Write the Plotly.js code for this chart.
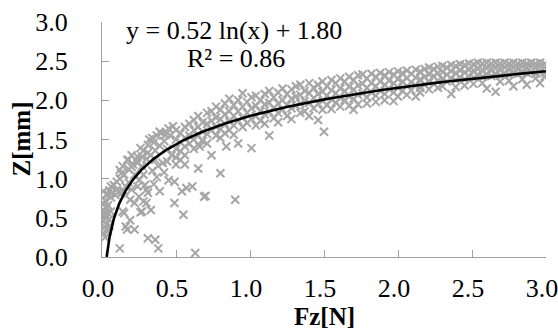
<!DOCTYPE html>
<html>
<head>
<meta charset="utf-8">
<script src="https://cdn.plot.ly/plotly-3.0.1.min.js"></script>
<style>html,body{margin:0;padding:0;background:#fff;}#chart{width:558px;height:335px;}</style>
</head>
<body>
<div id="chart"></div>
<script>
const pointsLow = [
[0.01,0.30],[0.02,0.38],[0.01,0.45],[0.03,0.50],[0.02,0.55],[0.01,0.60],[0.03,0.42],[0.04,0.33],[0.02,0.25],[0.05,0.48],
[0.03,0.62],[0.01,0.68],[0.04,0.56],[0.02,0.72],[0.05,0.40],[0.03,0.80],[0.01,0.84],[0.05,0.85],[0.02,0.52],[0.04,0.66],
[0.06,0.58],[0.03,0.35],[0.04,0.80],[0.07,0.82],[0.09,0.79],[0.11,0.83],[0.13,0.81],[0.15,0.84],[0.06,0.76],[0.10,0.86],
[0.14,0.84],[0.20,0.86],[0.12,1.11],[0.20,1.15],[0.27,1.28],[0.19,0.73],[0.22,0.69],[0.25,0.77],[0.30,0.86],[0.31,0.82],
[0.39,0.84],[0.30,0.69],[0.33,0.60],[0.16,0.39],[0.22,0.35],[0.15,0.56],[0.19,0.47],[0.14,0.58],[0.27,0.58],[0.31,0.24],
[0.36,0.22],[0.38,0.11],[0.12,0.11],[0.49,0.96],[0.49,0.69],[0.54,0.84],[0.55,0.54],[0.63,0.05],[0.69,0.77],[0.90,0.73],
[0.70,0.78],[0.61,0.90],[0.80,1.07],[0.57,0.88],[0.50,1.18],[0.56,1.18],[0.65,1.13],[0.28,0.71],[0.26,0.57],[0.17,0.35],
[0.06,0.90],[0.10,0.96],[0.13,1.07],[0.23,1.24],[0.31,1.33],[0.17,1.24],[0.26,1.39],[0.32,1.50],[0.39,1.60],[0.48,1.67],
[0.24,1.28],[0.31,1.43],[0.40,1.58],[0.41,1.20],[0.53,1.24],[0.66,1.41],[0.74,1.30],[0.80,1.52],[0.84,1.41],[0.18,1.24],
[0.08,0.92],[0.12,1.00],[0.15,1.05],[0.18,1.12],[0.21,1.18],[0.24,1.20],[0.27,1.16],[0.30,1.25],[0.33,1.30],[0.36,1.36],
[0.36,1.24],[0.39,1.42],[0.42,1.48],[0.44,1.38],[0.46,1.55],[0.47,1.30],[0.43,1.56],[0.35,1.46],[0.22,1.05],[0.25,0.98],
[0.28,1.05],[0.34,1.10],[0.37,1.02],[0.42,1.08],[0.45,0.98],[0.18,0.95],[0.16,0.90],[0.24,0.90],[0.35,0.93],[0.44,1.22],
[0.38,1.16],[0.29,0.92],[0.14,1.16],[0.20,1.30],[0.28,1.36],[0.34,1.52],[0.45,1.64],[0.37,1.55]
];
const pointsMid = [
[0.50,1.62],[0.50,1.50],[0.50,1.38],[0.50,1.27],[0.53,1.58],[0.53,1.46],[0.53,1.35],[0.56,1.66],[0.56,1.52],[0.56,1.41],
[0.56,1.30],[0.59,1.70],[0.59,1.55],[0.59,1.45],[0.62,1.75],[0.62,1.62],[0.62,1.50],[0.62,1.38],[0.65,1.80],[0.65,1.66],
[0.65,1.55],[0.65,1.44],[0.68,1.72],[0.68,1.60],[0.68,1.48],[0.71,1.84],[0.71,1.70],[0.71,1.57],[0.71,1.45],[0.74,1.86],
[0.74,1.74],[0.74,1.62],[0.77,1.92],[0.77,1.78],[0.77,1.66],[0.77,1.55],[0.80,1.88],[0.80,1.76],[0.80,1.63],[0.83,1.96],
[0.83,1.82],[0.83,1.70],[0.83,1.58],[0.86,2.02],[0.86,1.86],[0.86,1.73],[0.86,1.62],[0.89,1.94],[0.89,1.80],[0.89,1.68],
[0.89,1.56],[0.92,2.00],[0.92,1.86],[0.92,1.74],[0.92,1.45],[0.95,2.09],[0.95,1.92],[0.95,1.78],[0.95,1.66],[0.98,1.98],
[0.98,1.84],[0.98,1.71],[1.01,2.04],[1.01,1.90],[1.01,1.76],[1.01,1.39],[1.04,2.06],[1.04,1.93],[1.04,1.80],[1.04,1.68],
[1.07,2.00],[1.07,1.86],[1.07,1.74],[1.10,2.08],[1.10,1.95],[1.10,1.82],[1.10,1.70],[1.13,2.12],[1.13,1.97],[1.13,1.85],
[1.13,1.55],[1.16,2.04],[1.16,1.90],[1.16,1.77],[1.19,2.10],[1.19,1.96],[1.19,1.84],[1.19,1.72],[1.22,2.15],[1.22,2.00],
[1.22,1.88],[1.25,2.08],[1.25,1.94],[1.25,1.80],[1.28,2.14],[1.28,2.02],[1.28,1.90],[1.28,1.76],[1.31,2.18],[1.31,2.05],
[1.31,1.93],[1.34,2.20],[1.34,2.07],[1.34,1.96],[1.34,1.84],[1.37,2.12],[1.37,1.99],[1.37,1.86],[1.40,2.22],[1.40,2.09],
[1.40,1.97],[1.40,1.80],[1.43,2.16],[1.43,2.03],[1.43,1.90],[1.46,2.20],[1.46,2.08],[1.46,1.96],[1.46,1.75],[1.49,2.24],
[1.49,2.11],[1.49,1.99],[1.49,1.88],[1.50,1.60]
];
const pointsHigh = [
[1.52,2.18],[1.52,2.06],[1.52,1.94],[1.55,2.26],[1.55,2.13],[1.55,2.01],[1.55,1.89],[1.58,2.22],[1.58,2.09],[1.58,1.97],
[1.61,2.28],[1.61,2.15],[1.61,2.03],[1.61,1.92],[1.64,2.24],[1.64,2.12],[1.64,2.00],[1.67,2.30],[1.67,2.17],[1.67,2.05],
[1.67,1.93],[1.70,2.26],[1.70,2.14],[1.70,2.02],[1.70,1.88],[1.73,2.32],[1.73,2.19],[1.73,2.07],[1.73,1.95],[1.76,2.33],
[1.76,2.21],[1.76,2.09],[1.79,2.28],[1.79,2.16],[1.79,2.04],[1.79,1.96],[1.82,2.34],[1.82,2.22],[1.82,2.10],[1.85,2.30],
[1.85,2.18],[1.85,2.06],[1.85,1.98],[1.88,2.35],[1.88,2.24],[1.88,2.12],[1.91,2.32],[1.91,2.20],[1.91,2.08],[1.91,2.00],
[1.94,2.36],[1.94,2.25],[1.94,2.14],[1.97,2.33],[1.97,2.22],[1.97,2.10],[1.97,1.99],[2.00,2.37],[2.00,2.27],[2.00,2.16],
[2.00,2.05],[2.03,2.35],[2.03,2.24],[2.03,2.12],[2.06,2.38],[2.06,2.28],[2.06,2.18],[2.06,2.07],[2.09,2.34],[2.09,2.23],
[2.09,2.13],[2.12,2.39],[2.12,2.29],[2.12,2.19],[2.12,2.05],[2.15,2.37],[2.15,2.27],[2.15,2.16],[2.15,2.10],[2.18,2.40],
[2.18,2.30],[2.18,2.20],[2.21,2.42],[2.21,2.33],[2.21,2.23],[2.21,2.14],[2.24,2.40],[2.24,2.31],[2.24,2.21],[2.27,2.43],
[2.27,2.35],[2.27,2.25],[2.27,2.16],[2.30,2.44],[2.30,2.36],[2.30,2.27],[2.30,2.18],[2.33,2.42],[2.33,2.33],[2.33,2.24],
[2.36,2.45],[2.36,2.37],[2.36,2.28],[2.36,2.08],[2.39,2.44],[2.39,2.35],[2.39,2.26],[2.39,2.17],[2.42,2.46],[2.42,2.38],
[2.42,2.29],[2.45,2.45],[2.45,2.36],[2.45,2.27],[2.45,2.19],[2.48,2.47],[2.48,2.39],[2.48,2.30],[2.51,2.46],[2.51,2.38],
[2.51,2.29],[2.51,2.21],[2.54,2.48],[2.54,2.40],[2.54,2.31],[2.57,2.47],[2.57,2.39],[2.57,2.30],[2.57,2.22],[2.60,2.48],
[2.60,2.41],[2.60,2.32],[2.60,2.15],[2.63,2.47],[2.63,2.40],[2.63,2.31],[2.66,2.48],[2.66,2.41],[2.66,2.33],[2.66,2.11],
[2.69,2.47],[2.69,2.40],[2.69,2.32],[2.69,2.24],[2.72,2.48],[2.72,2.42],[2.72,2.34],[2.75,2.47],[2.75,2.41],[2.75,2.33],
[2.75,2.25],[2.78,2.48],[2.78,2.42],[2.78,2.35],[2.78,2.18],[2.81,2.47],[2.81,2.41],[2.81,2.34],[2.84,2.48],[2.84,2.43],
[2.84,2.36],[2.84,2.27],[2.87,2.47],[2.87,2.42],[2.87,2.35],[2.87,2.20],[2.90,2.48],[2.90,2.43],[2.90,2.36],[2.93,2.47],
[2.93,2.42],[2.93,2.34],[2.93,2.28],[2.96,2.48],[2.96,2.43],[2.96,2.37],[2.96,2.22],[2.99,2.47],[2.99,2.42],[2.99,2.35],
[2.99,2.30]
];
// Logarithmic trendline shown in the chart: y = 0.52 ln(x) + 1.80
const fitA = 0.52;
const fitB = 1.80;
const fitXStart = 0.0314;
const fitXEnd = 3.0;
const axisTicks = [0, 0.5, 1.0, 1.5, 2.0, 2.5, 3.0];
const tickLabels = ["0.0", "0.5", "1.0", "1.5", "2.0", "2.5", "3.0"];

const allPts = pointsLow.concat(pointsMid, pointsHigh);
const fz = allPts.map(p => p[0]);
const z = allPts.map(p => p[1]);

const fitX = [], fitY = [];
const nFit = 200;
for (let i = 0; i <= nFit; i++) {
  const lx = Math.log(fitXStart) + (Math.log(fitXEnd) - Math.log(fitXStart)) * i / nFit;
  const xv = Math.exp(lx);
  fitX.push(xv);
  fitY.push(fitA * Math.log(xv) + fitB);
}

const gray = '#a6a6a6';
const axisGray = '#a0a0a0';
const serif = 'Liberation Serif';

const traces = [
  {
    x: fz, y: z, type: 'scatter', mode: 'markers', hoverinfo: 'skip',
    marker: {symbol: 'x-thin', size: 8, color: gray, line: {color: gray, width: 2}}
  },
  {
    x: fitX, y: fitY, type: 'scatter', mode: 'lines', hoverinfo: 'skip',
    line: {color: '#000', width: 2.6}
  }
];

const layout = {
  width: 558, height: 335,
  margin: {l: 102, r: 12, t: 22, b: 78},
  paper_bgcolor: '#fff', plot_bgcolor: '#fff',
  showlegend: false,
  font: {family: serif, size: 26, color: '#000'},
  xaxis: {
    range: [0, 3], tickvals: axisTicks, ticktext: tickLabels,
    showgrid: false, zeroline: false, showline: true, linecolor: axisGray, linewidth: 1,
    ticks: 'inside', ticklen: 7, tickcolor: axisGray, tickwidth: 1,
    tickfont: {family: serif, size: 26, color: '#000'}, ticklabelstandoff: 8,
    ticklabelshift: -4, ticklabeloverflow: 'allow', automargin: false
  },
  yaxis: {
    range: [0, 3], tickvals: axisTicks, ticktext: tickLabels,
    showgrid: false, zeroline: false, showline: true, linecolor: axisGray, linewidth: 1,
    ticks: 'inside', ticklen: 7, tickcolor: axisGray, tickwidth: 1,
    tickfont: {family: serif, size: 26, color: '#000'}, ticklabelstandoff: 28,
    ticklabeloverflow: 'allow', automargin: false
  },
  annotations: [
    {text: 'y = 0.52 ln(x) + 1.80', xref: 'paper', yref: 'paper', x: 0.298, y: 0.962,
     xanchor: 'center', yanchor: 'middle', showarrow: false, font: {family: serif, size: 26, color: '#000'}},
    {text: 'R² = 0.86', xref: 'paper', yref: 'paper', x: 0.302, y: 0.846,
     xanchor: 'center', yanchor: 'middle', showarrow: false, font: {family: serif, size: 26, color: '#000'}},
    {text: '<b>Fz[N]</b>', xref: 'paper', yref: 'paper', x: 0.5, y: 0, yshift: -59,
     xanchor: 'center', yanchor: 'middle', showarrow: false, font: {family: serif, size: 25, color: '#000'}},
    {text: '<b>Z[mm]</b>', xref: 'paper', yref: 'paper', x: 0, y: 0.5, xshift: -81, textangle: -90,
     xanchor: 'center', yanchor: 'middle', showarrow: false, font: {family: serif, size: 25, color: '#000'}}
  ]
};

Plotly.newPlot('chart', traces, layout, {staticPlot: true, displayModeBar: false});
</script>
</body>
</html>
